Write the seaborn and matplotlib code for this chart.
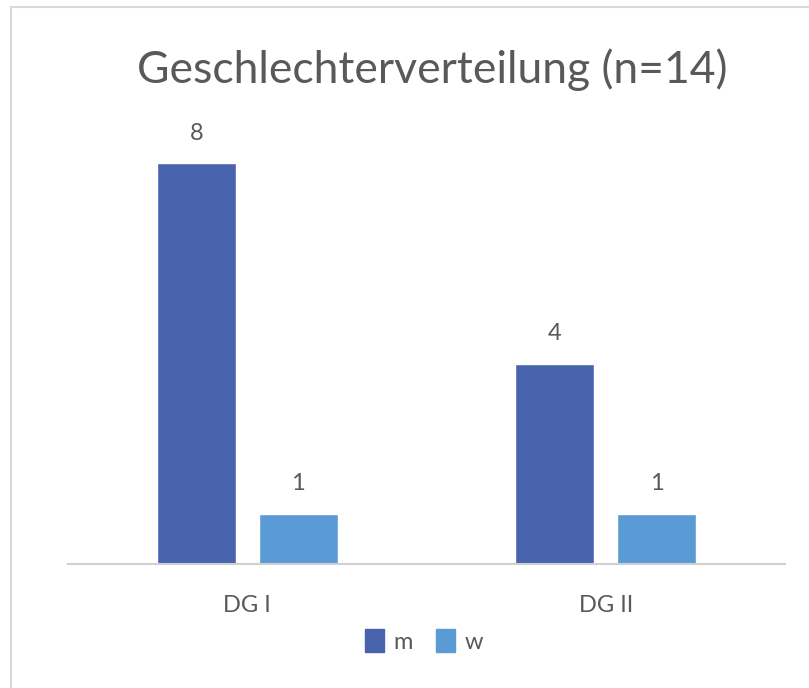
import matplotlib
matplotlib.use("Agg")
import matplotlib.pyplot as plt
import seaborn as sns
import pandas as pd
from matplotlib.patches import Rectangle

groups = ["DG I", "DG II"]
sexes = ["m", "w"]
m_values = [8, 4]
w_values = [1, 1]
title = "Geschlechterverteilung (n=14)"
colors = {"m": "#4964AD", "w": "#5B9BD5"}

rows = []
for g, mv, wv in zip(groups, m_values, w_values):
    rows.append({"Gruppe": g, "Geschlecht": "m", "Anzahl": mv})
    rows.append({"Gruppe": g, "Geschlecht": "w", "Anzahl": wv})
df = pd.DataFrame(rows)

sns.set_theme(style="white")
plt.rcParams["font.family"] = ["Lato", "DejaVu Sans"]
text_color = "#595959"

fig = plt.figure(figsize=(8.09, 6.88), dpi=100)
fig.patches.append(Rectangle((11 / 809, -0.1), 1.2, 1.1 - 7 / 688, transform=fig.transFigure,
                             fill=False, edgecolor="#D9D9D9", linewidth=1.5, zorder=0))
ax = fig.add_axes([68 / 809, 1 - 564 / 688, (785 - 68) / 809, (564 - 113) / 688])

sns.barplot(data=df, x="Gruppe", y="Anzahl", hue="Geschlecht", hue_order=sexes,
            palette=colors, width=0.569, gap=0.225, ax=ax, saturation=1, legend=False)

ax.set_ylim(0, 9)
ax.set_xlim(-0.5, 1.5)
ax.set_yticks([])
ax.set_xlabel("")
ax.set_ylabel("")
for s in ["top", "right", "left"]:
    ax.spines[s].set_visible(False)
ax.spines["bottom"].set_color("#D0D0D0")
ax.spines["bottom"].set_linewidth(1.5)
ax.tick_params(axis="x", length=0, pad=22, labelsize=17, colors=text_color)

for cont in ax.containers:
    ax.bar_label(cont, labels=[f"{int(v)}" for v in cont.datavalues], padding=14,
                 fontsize=17, color=text_color)

fig.text(0.534, 1 - 70 / 688, title, ha="center", va="center", fontsize=32, color=text_color)

handles = [Rectangle((0, 0), 1, 1, color=colors[s]) for s in sexes]
fig.legend(handles, sexes, loc="center", bbox_to_anchor=(0.524, 1 - 641 / 688), ncol=2,
           frameon=False, fontsize=17, handlelength=0.8, handleheight=1.1, handletextpad=0.4,
           columnspacing=1.0, labelcolor=text_color)

fig.savefig("out.png", dpi=100, facecolor="white")
